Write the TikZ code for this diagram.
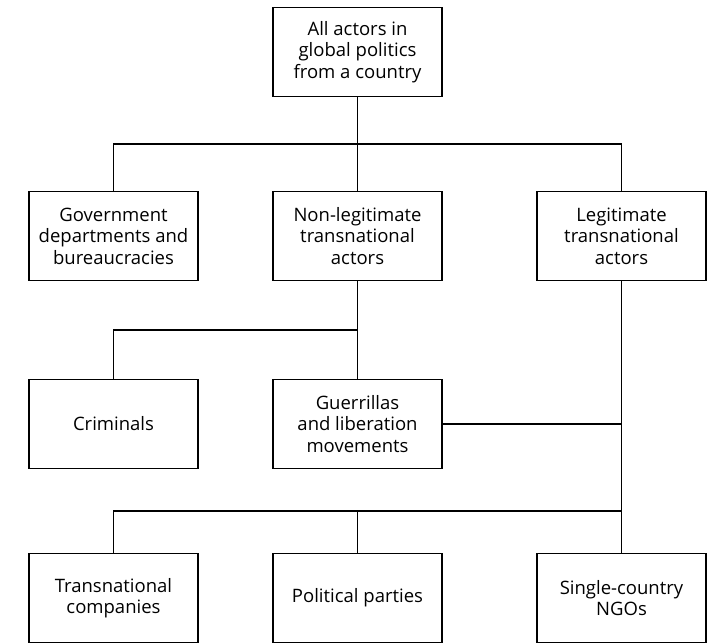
\documentclass[tikz,border=0pt]{standalone}
\usepackage{fontspec}
\setmainfont{Open Sans}
\usetikzlibrary{positioning}
\usetikzlibrary{calc}

\begin{document}
\begin{tikzpicture}[x=1pt,y=-1pt]
  \tikzset{actor/.style = {shape=rectangle,draw,line width=1.4pt,outer sep=0pt,minimum width=169pt,minimum height=89pt,align=center,inner sep=2pt,font=\fontsize{18.5}{21.5}\selectfont}}
  \tikzset{link/.style = {line width=1.4pt}}
  \useasboundingbox (0,0) rectangle (710,644);

  \node[actor] (all) at (357.5,52) {All actors in\\global politics\\from a country};
  \node[actor] (non) [below =95pt of all] {Non-legitimate\\transnational\\actors};
  \node[actor] (gov) [left =75pt of non] {Government\\departments and\\bureaucracies};
  \node[actor] (leg) [right =95pt of non] {Legitimate\\transnational\\actors};
  \node[actor] (gue) [below =99pt of non] {Guerrillas\\and liberation\\movements};
  \node[actor] (cri) [left =75pt of gue] {Criminals};
  \node[actor] (pol) [below =85pt of gue] {Political parties};
  \node[actor] (tra) [left =75pt of pol] {Transnational\\companies};
  \node[actor] (sin) [right =95pt of pol] {Single-country\\NGOs};

  \coordinate (bar1) at ($(all.south)!0.5!(non.north)$);
  \coordinate (bar2) at ($(non.south)!0.5!(gue.north)$);
  \coordinate (bar3) at ($(gue.south)!0.5!(pol.north)$);

  \draw[link] (all) -- (non);
  \draw[link] (gov) |- (bar1) -| (leg);
  \draw[link] (non) -- (gue);
  \draw[link] (cri) |- (bar2);
  \draw[link] (leg) -- (sin);
  \draw[link] (gue) -- (gue -| leg);
  \draw[link] (tra) |- (bar3 -| sin);
  \draw[link] (pol) -- (pol |- bar3);

\end{tikzpicture}
\end{document}
